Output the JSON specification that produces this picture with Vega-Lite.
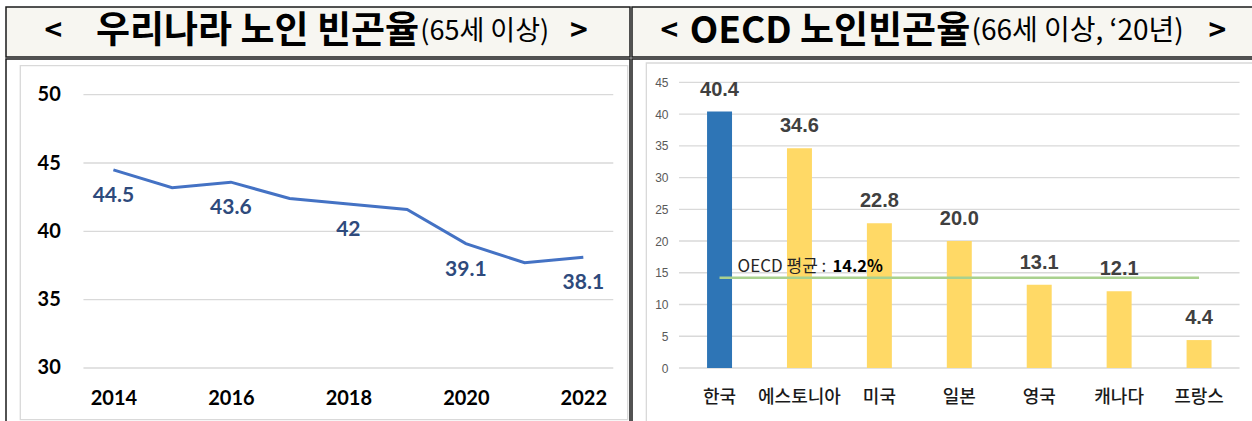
{
  "$schema": "https://vega.github.io/schema/vega-lite/v6.json",
  "background": "white",
  "padding": {"left": 5, "top": 6, "right": 0, "bottom": 0},
  "spacing": 0,
  "config": {"view": {"stroke": null}, "font": "Noto Sans CJK KR"},
  "datasets": {
    "korea": [
      {"year": 2014, "rate": 44.5},
      {"year": 2015, "rate": 43.2},
      {"year": 2016, "rate": 43.6},
      {"year": 2017, "rate": 42.4},
      {"year": 2018, "rate": 42.0},
      {"year": 2019, "rate": 41.6},
      {"year": 2020, "rate": 39.1},
      {"year": 2021, "rate": 37.7},
      {"year": 2022, "rate": 38.1}
    ],
    "oecd": [
      {"country": "한국", "rate": 40.4},
      {"country": "에스토니아", "rate": 34.6},
      {"country": "미국", "rate": 22.8},
      {"country": "일본", "rate": 20.0},
      {"country": "영국", "rate": 13.1},
      {"country": "캐나다", "rate": 12.1},
      {"country": "프랑스", "rate": 4.4}
    ],
    "oecdAvg": [{"label": "OECD 평균 :", "pct": "14.2%", "rate": 14.2}]
  },
  "hconcat": [
    {
      "spacing": 0,
      "vconcat": [
        {
          "width": 624,
          "height": 50,
          "view": {"fill": "#f7f6f1", "stroke": "#1a1a1a", "strokeWidth": 1.5},
          "data": {"values": [{"open": "<", "main": "우리나라 노인 빈곤율", "sub": "(65세 이상)", "close": ">"}]},
          "layer": [
            {"mark": {"type": "text", "font": "Noto Sans CJK KR", "fontSize": 30, "fontWeight": "bold", "align": "center", "baseline": "middle", "color": "#000"},
             "encoding": {"x": {"datum": 7.6, "type": "quantitative", "scale": {"domain": [0, 100]}, "axis": null}, "text": {"field": "open"}}},
            {"mark": {"type": "text", "font": "Noto Sans CJK KR", "fontSize": 37, "fontWeight": "bold", "align": "right", "baseline": "middle", "color": "#000"},
             "encoding": {"x": {"datum": 66.2, "type": "quantitative", "scale": {"domain": [0, 100]}, "axis": null}, "text": {"field": "main"}}},
            {"mark": {"type": "text", "font": "Noto Sans CJK KR", "fontSize": 27, "fontWeight": "normal", "align": "left", "baseline": "middle", "color": "#000"},
             "encoding": {"x": {"datum": 66.4, "type": "quantitative", "scale": {"domain": [0, 100]}, "axis": null}, "text": {"field": "sub"}}},
            {"mark": {"type": "text", "font": "Noto Sans CJK KR", "fontSize": 30, "fontWeight": "bold", "align": "center", "baseline": "middle", "color": "#000"},
             "encoding": {"x": {"datum": 91.8, "type": "quantitative", "scale": {"domain": [0, 100]}, "axis": null}, "text": {"field": "close"}}}
          ]
        },
        {
          "width": 624,
          "height": 374,
          "view": {"stroke": "#1a1a1a", "strokeWidth": 1.5},
          "layer": [
            {"data": {"values": [{}]},
             "mark": {"type": "rect", "fill": "transparent", "stroke": "#d9d9d9", "strokeWidth": 1.3},
             "encoding": {
               "x": {"datum": 2012.415, "type": "quantitative", "scale": {"domain": [2012.1716, 2022.7947], "nice": false, "zero": false}},
               "x2": {"datum": 2022.7555},
               "y": {"datum": 52.122, "type": "quantitative", "scale": {"domain": [25.243, 52.6125], "nice": false, "zero": false}},
               "y2": {"datum": 26.216}}},
            {"data": {"values": [{"g": 30}, {"g": 35}, {"g": 40}, {"g": 45}, {"g": 50}]},
             "mark": {"type": "rule", "color": "#d9d9d9", "strokeWidth": 1.3},
             "encoding": {
               "x": {"datum": 2013.49, "type": "quantitative", "scale": {"domain": [2012.1716, 2022.7947], "nice": false, "zero": false}},
               "x2": {"datum": 2022.51},
               "y": {"field": "g", "type": "quantitative", "scale": {"domain": [25.243, 52.6125], "nice": false, "zero": false}}}},
            {"data": {"name": "korea"},
             "mark": {"type": "line", "color": "#4472c4", "strokeWidth": 3},
             "encoding": {
               "x": {"field": "year", "type": "quantitative", "scale": {"domain": [2012.1716, 2022.7947], "nice": false, "zero": false},
                     "axis": {"values": [2014, 2016, 2018, 2020, 2022], "format": "d", "title": null, "grid": false, "domain": false, "ticks": false, "tickSize": 0, "labelPadding": 0, "offset": -35, "labelFont": "Lato", "labelFontWeight": "bold", "labelFontSize": 20, "labelColor": "#000", "labelAlign": "center", "labelBaseline": "middle", "labelFlush": false, "labelOverlap": false, "zindex": 1}},
               "y": {"field": "rate", "type": "quantitative", "scale": {"domain": [25.243, 52.6125], "nice": false, "zero": false},
                     "axis": {"values": [30, 35, 40, 45, 50], "title": null, "grid": false, "domain": false, "ticks": false, "tickSize": 0, "labelPadding": 0, "offset": -54.3, "labelFont": "Lato", "labelFontWeight": "bold", "labelFontSize": 20, "labelColor": "#000", "labelAlign": "right", "labelBaseline": "middle", "labelFlush": false, "labelOverlap": false, "zindex": 1}}}},
            {"data": {"name": "korea"},
             "transform": [{"filter": "datum.year % 2 == 0"}],
             "mark": {"type": "text", "font": "Lato", "fontWeight": "bold", "fontSize": 21, "color": "#2e4a7c", "baseline": "alphabetic", "dy": 32},
             "encoding": {
               "x": {"field": "year", "type": "quantitative", "scale": {"domain": [2012.1716, 2022.7947], "nice": false, "zero": false}},
               "y": {"field": "rate", "type": "quantitative", "scale": {"domain": [25.243, 52.6125], "nice": false, "zero": false}},
               "text": {"field": "rate", "type": "quantitative"}}}
          ]
        }
      ]
    },
    {
      "spacing": 0,
      "vconcat": [
        {
          "width": 624,
          "height": 50,
          "view": {"fill": "#f7f6f1", "stroke": "#1a1a1a", "strokeWidth": 1.5},
          "data": {"values": [{"open": "<", "main": "OECD 노인빈곤율", "sub": "(66세 이상, ‘20년)", "close": ">"}]},
          "layer": [
            {"mark": {"type": "text", "font": "Noto Sans CJK KR", "fontSize": 30, "fontWeight": "bold", "align": "center", "baseline": "middle", "color": "#000"},
             "encoding": {"x": {"datum": 6.0, "type": "quantitative", "scale": {"domain": [0, 100]}, "axis": null}, "text": {"field": "open"}}},
            {"mark": {"type": "text", "font": "Noto Sans CJK KR", "fontSize": 37, "fontWeight": "bold", "align": "right", "baseline": "middle", "color": "#000"},
             "encoding": {"x": {"datum": 54.2, "type": "quantitative", "scale": {"domain": [0, 100]}, "axis": null}, "text": {"field": "main"}}},
            {"mark": {"type": "text", "font": "Noto Sans CJK KR", "fontSize": 28, "fontWeight": "normal", "align": "left", "baseline": "middle", "color": "#000"},
             "encoding": {"x": {"datum": 54.4, "type": "quantitative", "scale": {"domain": [0, 100]}, "axis": null}, "text": {"field": "sub"}}},
            {"mark": {"type": "text", "font": "Noto Sans CJK KR", "fontSize": 30, "fontWeight": "bold", "align": "center", "baseline": "middle", "color": "#000"},
             "encoding": {"x": {"datum": 93.8, "type": "quantitative", "scale": {"domain": [0, 100]}, "axis": null}, "text": {"field": "close"}}}
          ]
        },
        {
          "width": 624,
          "height": 374,
          "view": {"stroke": "#1a1a1a", "strokeWidth": 1.5},
          "layer": [
            {"data": {"values": [{}]},
             "mark": {"type": "rect", "fill": "transparent", "stroke": "#d9d9d9", "strokeWidth": 1.3, "xOffset": -73.2, "x2Offset": 54.5},
             "encoding": {
               "x": {"datum": "한국", "type": "nominal", "bandPosition": 0.5, "scale": {"domain": ["한국", "에스토니아", "미국", "일본", "영국", "캐나다", "프랑스"], "paddingInner": 0.6875, "paddingOuter": 0.7477, "align": 0.628}},
               "x2": {"datum": "프랑스", "bandPosition": 0.5},
               "y": {"datum": 48.04, "type": "quantitative", "scale": {"domain": [-10.238, 48.67], "nice": false, "zero": false}},
               "y2": {"datum": -8.66}}},
            {"data": {"values": [{"g": 0}, {"g": 5}, {"g": 10}, {"g": 15}, {"g": 20}, {"g": 25}, {"g": 30}, {"g": 35}, {"g": 40}, {"g": 45}]},
             "mark": {"type": "rule", "color": "#d9d9d9", "strokeWidth": 1.3, "xOffset": -40.5, "x2Offset": 40.5},
             "encoding": {
               "x": {"datum": "한국", "type": "nominal", "bandPosition": 0.5, "scale": {"domain": ["한국", "에스토니아", "미국", "일본", "영국", "캐나다", "프랑스"], "paddingInner": 0.6875, "paddingOuter": 0.7477, "align": 0.628}},
               "x2": {"datum": "프랑스", "bandPosition": 0.5},
               "y": {"field": "g", "type": "quantitative", "scale": {"domain": [-10.238, 48.67], "nice": false, "zero": false}}}},
            {"data": {"name": "oecd"},
             "mark": {"type": "bar"},
             "encoding": {
               "x": {"field": "country", "type": "nominal", "sort": null, "scale": {"domain": ["한국", "에스토니아", "미국", "일본", "영국", "캐나다", "프랑스"], "paddingInner": 0.6875, "paddingOuter": 0.7477, "align": 0.628},
                     "axis": {"title": null, "labelAngle": 0, "labelAlign": "center", "domain": false, "ticks": false, "tickSize": 0, "labelPadding": 0, "offset": -35.5, "labelFont": "Noto Sans CJK KR", "labelFontSize": 18, "labelFontWeight": 500, "labelColor": "#1a1a1a", "labelBaseline": "middle", "labelOverlap": false, "zindex": 1}},
               "y": {"field": "rate", "type": "quantitative", "scale": {"domain": [-10.238, 48.67], "nice": false, "zero": false},
                     "axis": {"values": [0, 5, 10, 15, 20, 25, 30, 35, 40, 45], "title": null, "grid": false, "domain": false, "ticks": false, "tickSize": 0, "labelPadding": 0, "offset": -36, "labelFont": "Liberation Sans", "labelFontSize": 12, "labelColor": "#595959", "labelAlign": "right", "labelBaseline": "middle", "labelFlush": false, "labelOverlap": false, "zindex": 1}},
               "y2": {"datum": 0},
               "color": {"field": "country", "type": "nominal", "scale": {"domain": ["한국", "에스토니아", "미국", "일본", "영국", "캐나다", "프랑스"], "range": ["#2e75b6", "#ffd966", "#ffd966", "#ffd966", "#ffd966", "#ffd966", "#ffd966"]}, "legend": null}}},
            {"data": {"name": "oecd"},
             "mark": {"type": "text", "font": "Liberation Sans", "fontWeight": "bold", "fontSize": 20, "color": "#404040", "baseline": "alphabetic", "dy": -16},
             "encoding": {
               "x": {"field": "country", "type": "nominal", "scale": {"domain": ["한국", "에스토니아", "미국", "일본", "영국", "캐나다", "프랑스"], "paddingInner": 0.6875, "paddingOuter": 0.7477, "align": 0.628}},
               "y": {"field": "rate", "type": "quantitative", "scale": {"domain": [-10.238, 48.67], "nice": false, "zero": false}},
               "text": {"field": "rate", "type": "quantitative", "format": ".1f"}}},
            {"data": {"name": "oecdAvg"},
             "mark": {"type": "rule", "color": "#a9d18e", "strokeWidth": 2.5},
             "encoding": {
               "x": {"datum": "한국", "type": "nominal", "bandPosition": 0.5, "scale": {"domain": ["한국", "에스토니아", "미국", "일본", "영국", "캐나다", "프랑스"], "paddingInner": 0.6875, "paddingOuter": 0.7477, "align": 0.628}},
               "x2": {"datum": "프랑스", "bandPosition": 0.5},
               "y": {"field": "rate", "type": "quantitative", "scale": {"domain": [-10.238, 48.67], "nice": false, "zero": false}}}},
            {"data": {"name": "oecdAvg"},
             "mark": {"type": "text", "font": "Noto Sans CJK KR", "fontSize": 17, "color": "#262626", "align": "left", "baseline": "middle", "dx": 18, "dy": -11},
             "encoding": {
               "x": {"datum": "한국", "type": "nominal", "bandPosition": 0.5, "scale": {"domain": ["한국", "에스토니아", "미국", "일본", "영국", "캐나다", "프랑스"], "paddingInner": 0.6875, "paddingOuter": 0.7477, "align": 0.628}},
               "y": {"field": "rate", "type": "quantitative", "scale": {"domain": [-10.238, 48.67], "nice": false, "zero": false}},
               "text": {"field": "label"}}},
            {"data": {"name": "oecdAvg"},
             "mark": {"type": "text", "font": "Noto Sans CJK KR", "fontSize": 16.5, "fontWeight": "bold", "color": "#000", "align": "left", "baseline": "middle", "dx": 113, "dy": -11},
             "encoding": {
               "x": {"datum": "한국", "type": "nominal", "bandPosition": 0.5, "scale": {"domain": ["한국", "에스토니아", "미국", "일본", "영국", "캐나다", "프랑스"], "paddingInner": 0.6875, "paddingOuter": 0.7477, "align": 0.628}},
               "y": {"field": "rate", "type": "quantitative", "scale": {"domain": [-10.238, 48.67], "nice": false, "zero": false}},
               "text": {"field": "pct"}}}
          ]
        }
      ]
    }
  ]
}
